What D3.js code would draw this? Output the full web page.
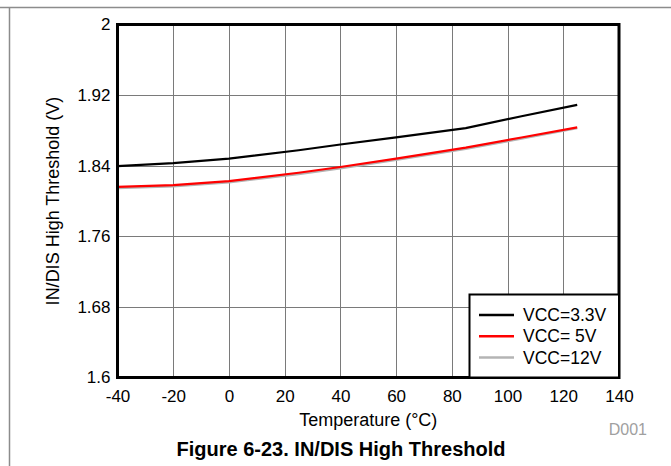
<!DOCTYPE html>
<meta charset="utf-8">
<head>
<style>
  body { margin: 0; background: #fff; }
  text { font-family: "Liberation Sans", Arial, sans-serif; }
  .grid line { stroke: #7a7a7a; stroke-width: 1px; shape-rendering: crispEdges; }
</style>
</head>
<body>
<div id="content"></div>
<script src="https://d3js.org/d3.v7.min.js"></script>
<script>
// temperature points (degC)
var temps = [-40, -20, 0, 25, 40, 60, 85, 105, 125];
// threshold (V) per supply
var vcc33 = [1.8395, 1.843, 1.848, 1.8575, 1.864, 1.872, 1.8825, 1.896, 1.909];
var vcc5  = [1.816, 1.818, 1.8225, 1.832, 1.8385, 1.848, 1.8605, 1.872, 1.8835];
var vcc12 = [1.8145, 1.8165, 1.821, 1.8305, 1.837, 1.8465, 1.859, 1.8705, 1.8825];

var seriesNames = ["VCC=3.3V", "VCC= 5V", "VCC=12V"];
var seriesColors = ["#000000", "#ff0000", "#b4b4b4"];
var xTicks = [-40, -20, 0, 20, 40, 60, 80, 100, 120, 140];
var yTicks = [1.6, 1.68, 1.76, 1.84, 1.92, 2];

var W = 671, H = 466;
var margin = {left: 117.5, right: 52, top: 24.5, bottom: 88.5};

var svg = d3.select("#content").append("svg")
    .attr("width", W).attr("height", H);

// page border lines
svg.append("line").attr("x1", 0).attr("x2", W).attr("y1", 7.5).attr("y2", 7.5)
    .attr("stroke", "#8c8c8c").attr("stroke-width", 1.5);
svg.append("line").attr("x1", 9.5).attr("x2", 9.5).attr("y1", 7.5).attr("y2", H)
    .attr("stroke", "#8c8c8c").attr("stroke-width", 1.5);

var x = d3.scaleLinear().domain([-40, 140]).range([margin.left, W - margin.right]);
var y = d3.scaleLinear().domain([1.6, 2]).range([H - margin.bottom, margin.top]);

var grid = svg.append("g").attr("class", "grid");
grid.selectAll(".vx").data(xTicks.slice(1, -1)).enter().append("line")
    .attr("x1", d => Math.round(x(d)) + 0.5).attr("x2", d => Math.round(x(d)) + 0.5)
    .attr("y1", y(2)).attr("y2", y(1.6));
grid.selectAll(".hy").data(yTicks.slice(1, -1)).enter().append("line")
    .attr("y1", d => Math.round(y(d)) + 0.5).attr("y2", d => Math.round(y(d)) + 0.5)
    .attr("x1", x(-40)).attr("x2", x(140));

// axes (labels only, frame drawn separately)
var xAxis = svg.append("g")
    .attr("transform", "translate(0," + (y(1.6) + 4) + ")")
    .call(d3.axisBottom(x).tickValues(xTicks).tickSize(0).tickPadding(8).tickFormat(d => String(d)));
xAxis.select(".domain").remove();
xAxis.selectAll("text").style("font-size", "17px").attr("fill", "#000");

var yAxis = svg.append("g")
    .attr("transform", "translate(" + (x(-40) - 7) + ",0)")
    .call(d3.axisLeft(y).tickValues(yTicks).tickSize(0).tickPadding(0).tickFormat(d => String(+d.toFixed(2))));
yAxis.select(".domain").remove();
yAxis.selectAll("text").style("font-size", "17px").attr("fill", "#000");

var line = d3.line().x(d => x(d[0])).y(d => y(d[1]));
var allSeries = [vcc12, vcc5, vcc33];
var allColors = [seriesColors[2], seriesColors[1], seriesColors[0]];
allSeries.forEach(function(s, i) {
  svg.append("path")
    .datum(temps.map((t, j) => [t, s[j]]))
    .attr("fill", "none")
    .attr("stroke", allColors[i])
    .attr("stroke-width", 2.2)
    .attr("d", line);
});

// plot frame
svg.append("rect")
    .attr("x", x(-40)).attr("y", y(2))
    .attr("width", x(140) - x(-40)).attr("height", y(1.6) - y(2))
    .attr("fill", "none").attr("stroke", "#000").attr("stroke-width", 3);

// legend
var lg = svg.append("g");
lg.append("rect")
    .attr("x", 469.5).attr("y", 294.5)
    .attr("width", x(140) - 469.5).attr("height", y(1.6) - 294.5)
    .attr("fill", "#fff").attr("stroke", "#000").attr("stroke-width", 2);
seriesNames.forEach(function(n, i) {
  var ly = 315 + i * 21.3;
  lg.append("line").attr("x1", 479).attr("x2", 514).attr("y1", ly).attr("y2", ly)
    .attr("stroke", seriesColors[i]).attr("stroke-width", 2.5);
  lg.append("text").attr("x", 523).attr("y", ly + 6).text(n)
    .style("font-size", "17.5px");
});

// titles
svg.append("text")
    .attr("x", (x(-40) + x(140)) / 2).attr("y", 426)
    .attr("text-anchor", "middle").style("font-size", "18px")
    .text("Temperature (\u00B0C)");
svg.append("text")
    .attr("transform", "translate(59," + ((y(2) + y(1.6)) / 2) + ") rotate(-90)")
    .attr("text-anchor", "middle").style("font-size", "18px")
    .text("IN/DIS High Threshold (V)");
svg.append("text")
    .attr("x", 647).attr("y", 435).attr("text-anchor", "end")
    .style("font-size", "16px").attr("fill", "#a0a0a0")
    .text("D001");
svg.append("text")
    .attr("x", 341).attr("y", 456).attr("text-anchor", "middle")
    .style("font-size", "20px").style("font-weight", "bold")
    .text("Figure 6-23. IN/DIS High Threshold");
</script>
</body>
</html>
